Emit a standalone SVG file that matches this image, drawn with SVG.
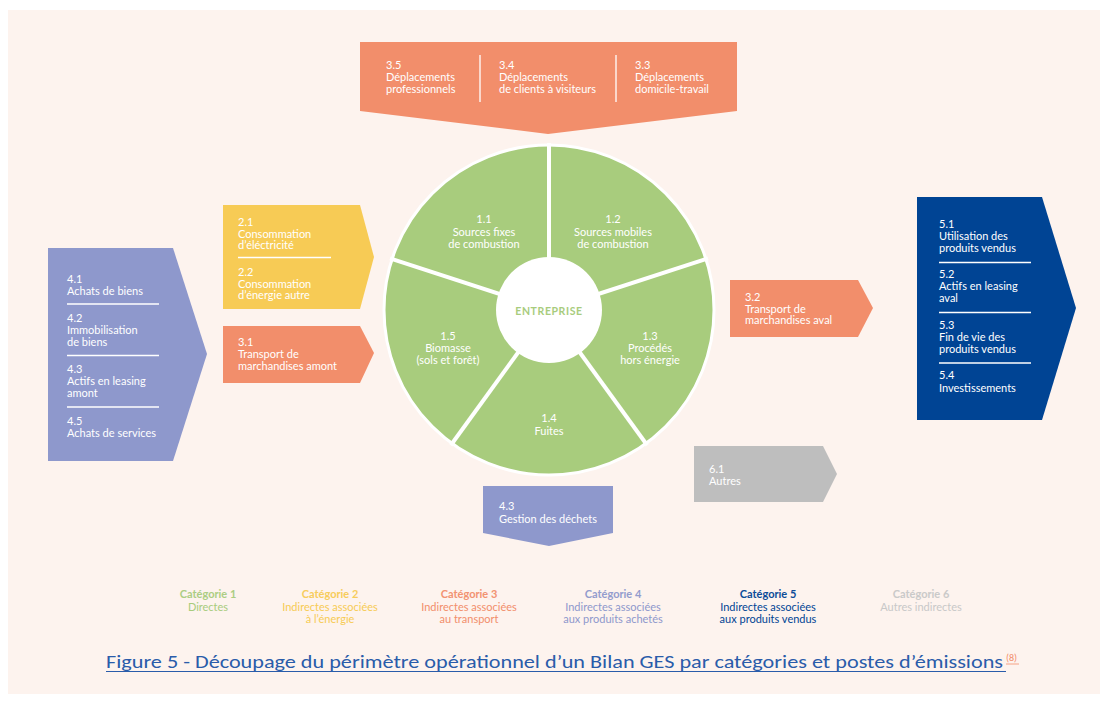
<svg xmlns="http://www.w3.org/2000/svg" width="1108" height="701" viewBox="0 0 1108 701">
<style>
.t{font-family:Lato,"Open Sans","Liberation Sans",sans-serif;font-size:11px;fill:#ffffff}
.c{text-anchor:middle}
.sep{stroke:#ffffff;stroke-width:1.3}
.lg{font-family:Lato,"Open Sans","Liberation Sans",sans-serif;font-size:11px;text-anchor:middle}
.lh{font-weight:bold;opacity:0.95}
</style>
<rect x="0" y="0" width="1108" height="701" fill="#ffffff"/>
<rect x="8" y="10" width="1092" height="684" fill="#fdf3ee"/>

<g id="banner-top">
<polygon points="360,42 737,42 737,111 548,134 360,111" fill="#f28e6b"/>
<line class="sep" x1="480" y1="55" x2="480" y2="102"/>
<line class="sep" x1="616" y1="55" x2="616" y2="102"/>
<text class="t" x="386" y="69">3.5</text>
<text class="t" x="386" y="81">Déplacements</text>
<text class="t" x="386" y="93">professionnels</text>
<text class="t" x="499" y="69">3.4</text>
<text class="t" x="499" y="81">Déplacements</text>
<text class="t" x="499" y="93">de clients à visiteurs</text>
<text class="t" x="635" y="69">3.3</text>
<text class="t" x="635" y="81">Déplacements</text>
<text class="t" x="635" y="93">domicile-travail</text>
</g>

<g id="cat2-energie">
<polygon points="223,205 360,205 374,257 360,309 223,309" fill="#f7cb55"/>
<line class="sep" x1="238" y1="257.5" x2="331" y2="257.5"/>
<text class="t" x="238" y="225.5">2.1</text>
<text class="t" x="238" y="237.5">Consommation</text>
<text class="t" x="238" y="249">d’éléctricité</text>
<text class="t" x="238" y="275.5">2.2</text>
<text class="t" x="238" y="287.5">Consommation</text>
<text class="t" x="238" y="299">d’énergie autre</text>
</g>

<g id="cat3-amont">
<polygon points="223,326 360,326 374,353 360,383 223,383" fill="#f28e6b"/>
<text class="t" x="238" y="345.5">3.1</text>
<text class="t" x="238" y="357.5">Transport de</text>
<text class="t" x="238" y="370">marchandises amont</text>
</g>

<g id="cat4-achats">
<polygon points="48,248 173,248 207,354 173,461 48,461" fill="#8e98cc"/>
<line class="sep" x1="67" y1="304" x2="159" y2="304"/>
<line class="sep" x1="67" y1="355.5" x2="159" y2="355.5"/>
<line class="sep" x1="67" y1="407" x2="159" y2="407"/>
<text class="t" x="67" y="282.5">4.1</text>
<text class="t" x="67" y="295">Achats de biens</text>
<text class="t" x="67" y="321.5">4.2</text>
<text class="t" x="67" y="334">Immobilisation</text>
<text class="t" x="67" y="345.5">de biens</text>
<text class="t" x="67" y="372.5">4.3</text>
<text class="t" x="67" y="385">Actifs en leasing</text>
<text class="t" x="67" y="397">amont</text>
<text class="t" x="67" y="425">4.5</text>
<text class="t" x="67" y="437">Achats de services</text>
</g>

<g id="cat1-entreprise">
<circle cx="549" cy="310" r="165" fill="#a8cc7d" stroke="#ffffff" stroke-width="3"/>
<g stroke="#ffffff" stroke-width="4">
<line x1="549" y1="310" x2="549" y2="143"/>
<line x1="549" y1="310" x2="708" y2="258.3"/>
<line x1="549" y1="310" x2="647.2" y2="445.2"/>
<line x1="549" y1="310" x2="450.8" y2="445.2"/>
<line x1="549" y1="310" x2="390" y2="258.3"/>
</g>
<circle cx="549" cy="310" r="53" fill="#ffffff"/>
<text x="549" y="315" text-anchor="middle" font-family="Lato,'Open Sans','Liberation Sans',sans-serif" font-size="10.5" font-weight="bold" letter-spacing="0.6" fill="#a8cc7d">ENTREPRISE</text>
<text class="t c" x="484" y="223">1.1</text>
<text class="t c" x="484" y="235.5">Sources fixes</text>
<text class="t c" x="484" y="247.5">de combustion</text>
<text class="t c" x="613" y="223">1.2</text>
<text class="t c" x="613" y="235.5">Sources mobiles</text>
<text class="t c" x="613" y="247.5">de combustion</text>
<text class="t c" x="650" y="339.5">1.3</text>
<text class="t c" x="650" y="351.5">Procédés</text>
<text class="t c" x="650" y="363.5">hors énergie</text>
<text class="t c" x="549" y="421.5">1.4</text>
<text class="t c" x="549" y="435">Fuites</text>
<text class="t c" x="448" y="339.5">1.5</text>
<text class="t c" x="448" y="351.5">Biomasse</text>
<text class="t c" x="448" y="363.5">(sols et forêt)</text>
</g>

<g id="cat3-aval">
<polygon points="730,280 858,280 873,308 858,337 730,337" fill="#f28e6b"/>
<text class="t" x="745" y="300.5">3.2</text>
<text class="t" x="745" y="312.5">Transport de</text>
<text class="t" x="745" y="324">marchandises aval</text>
</g>

<g id="cat5-vendus">
<polygon points="917,197 1042,197 1076,308 1042,420 917,420" fill="#004494"/>
<line class="sep" x1="939" y1="262.5" x2="1031" y2="262.5"/>
<line class="sep" x1="939" y1="312.5" x2="1031" y2="312.5"/>
<line class="sep" x1="939" y1="363" x2="1031" y2="363"/>
<text class="t" x="939" y="227.5">5.1</text>
<text class="t" x="939" y="240">Utilisation des</text>
<text class="t" x="939" y="252">produits vendus</text>
<text class="t" x="939" y="277.5">5.2</text>
<text class="t" x="939" y="290">Actifs en leasing</text>
<text class="t" x="939" y="301.5">aval</text>
<text class="t" x="939" y="328.5">5.3</text>
<text class="t" x="939" y="340.5">Fin de vie des</text>
<text class="t" x="939" y="352.5">produits vendus</text>
<text class="t" x="939" y="378.5">5.4</text>
<text class="t" x="939" y="391.5">Investissements</text>
</g>

<g id="cat6-autres">
<polygon points="694,446 823,446 837,474 823,502 694,502" fill="#bebebe"/>
<text class="t" x="709" y="473">6.1</text>
<text class="t" x="709" y="485">Autres</text>
</g>

<g id="cat4-dechets">
<polygon points="483,486 613,486 613,533 549,546 483,533" fill="#8e98cc"/>
<text class="t" x="499" y="509.5">4.3</text>
<text class="t" x="499" y="523">Gestion des déchets</text>
</g>

<g id="legend">
<g fill="#a8cc7d"><text class="lg lh" x="208" y="598">Catégorie 1</text><text class="lg" x="208" y="611">Directes</text></g>
<g fill="#f7cb55"><text class="lg lh" x="330" y="598">Catégorie 2</text><text class="lg" x="330" y="611">Indirectes associées</text><text class="lg" x="330" y="623">à l’énergie</text></g>
<g fill="#f28e6b"><text class="lg lh" x="469" y="598">Catégorie 3</text><text class="lg" x="469" y="611">Indirectes associées</text><text class="lg" x="469" y="623">au transport</text></g>
<g fill="#8e98cc"><text class="lg lh" x="613" y="598">Catégorie 4</text><text class="lg" x="613" y="611">Indirectes associées</text><text class="lg" x="613" y="623">aux produits achetés</text></g>
<g fill="#004494"><text class="lg lh" x="768" y="598">Catégorie 5</text><text class="lg" x="768" y="611">Indirectes associées</text><text class="lg" x="768" y="623">aux produits vendus</text></g>
<g fill="#c8c8c8"><text class="lg lh" x="921" y="598">Catégorie 6</text><text class="lg" x="921" y="611">Autres indirectes</text></g>
</g>

<g id="caption">
<text x="106" y="668" font-family="Carlito,'Liberation Sans',sans-serif" font-size="18" fill="#2a5caa" textLength="897" lengthAdjust="spacingAndGlyphs">Figure 5 - Découpage du périmètre opérationnel d’un Bilan GES par catégories et postes d’émissions</text>
<line x1="106" y1="671.5" x2="1006" y2="671.5" stroke="#2a5caa" stroke-width="1.2"/>
<text x="1006" y="661" font-family="Carlito,'Liberation Sans',sans-serif" font-size="10" fill="#f28e6b">(8)</text>
<line x1="1006" y1="664" x2="1019" y2="664" stroke="#f28e6b" stroke-width="0.8"/>
</g>
</svg>
